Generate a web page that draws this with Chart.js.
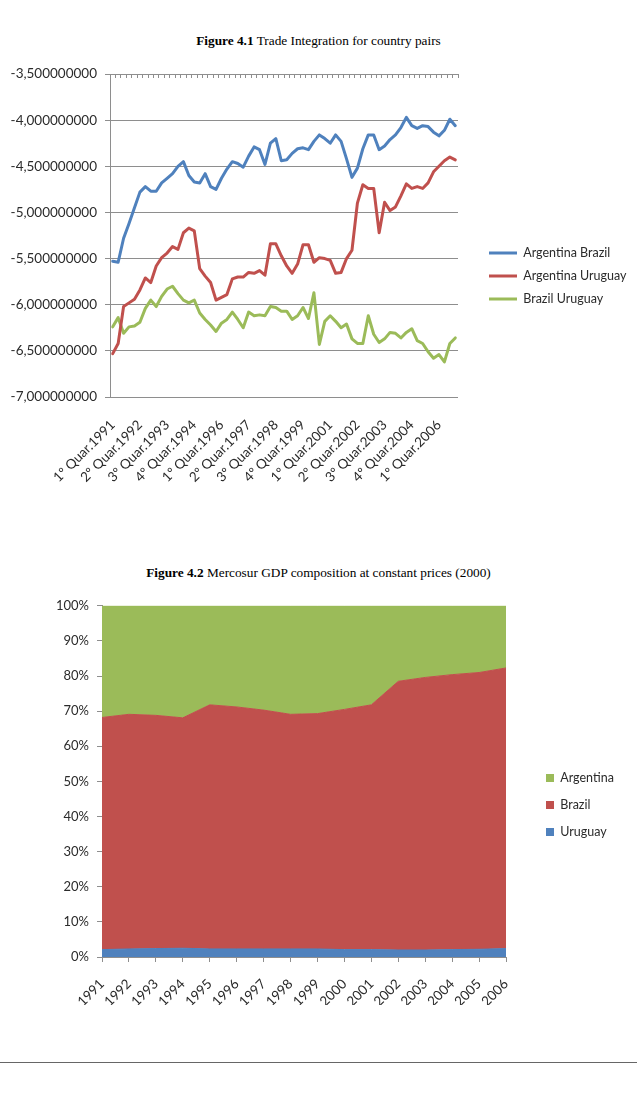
<!DOCTYPE html>
<html>
<head>
<meta charset="utf-8">
<script src="https://cdn.jsdelivr.net/npm/chart.js@4.4.0/dist/chart.umd.min.js"></script>
<style>
html,body{margin:0;padding:0;background:#fff;width:637px;height:1101px;overflow:hidden;position:relative;}
.title{position:absolute;left:0;width:637px;text-align:center;font-family:"Liberation Serif","Times New Roman",serif;font-size:13.3px;color:#000;line-height:16px;}
#c1wrap{position:absolute;left:0;top:55px;width:680px;height:435px;}
#c2wrap{position:absolute;left:0;top:590px;width:637px;height:415px;}
.rule{position:absolute;left:0;top:1062px;width:637px;height:0;border-top:1.5px solid #666;}
</style>
</head>
<body>
<div class="title" style="top:33px"><b>Figure 4.1</b> Trade Integration for country pairs</div>
<div id="c1wrap"><canvas id="c1"></canvas></div>
<div class="title" style="top:565px"><b>Figure 4.2</b> Mercosur GDP composition at constant prices (2000)</div>
<div id="c2wrap"><canvas id="c2"></canvas></div>
<div class="rule"></div>
<script>
// ---------- Figure 4.1 data ----------
const quarterLabels = [
"1º Quar.1991","2º Quar.1991","3º Quar.1991","4º Quar.1991",
"1º Quar.1992","2º Quar.1992","3º Quar.1992","4º Quar.1992",
"1º Quar.1993","2º Quar.1993","3º Quar.1993","4º Quar.1993",
"1º Quar.1994","2º Quar.1994","3º Quar.1994","4º Quar.1994",
"1º Quar.1995","2º Quar.1995","3º Quar.1995","4º Quar.1995",
"1º Quar.1996","2º Quar.1996","3º Quar.1996","4º Quar.1996",
"1º Quar.1997","2º Quar.1997","3º Quar.1997","4º Quar.1997",
"1º Quar.1998","2º Quar.1998","3º Quar.1998","4º Quar.1998",
"1º Quar.1999","2º Quar.1999","3º Quar.1999","4º Quar.1999",
"1º Quar.2000","2º Quar.2000","3º Quar.2000","4º Quar.2000",
"1º Quar.2001","2º Quar.2001","3º Quar.2001","4º Quar.2001",
"1º Quar.2002","2º Quar.2002","3º Quar.2002","4º Quar.2002",
"1º Quar.2003","2º Quar.2003","3º Quar.2003","4º Quar.2003",
"1º Quar.2004","2º Quar.2004","3º Quar.2004","4º Quar.2004",
"1º Quar.2005","2º Quar.2005","3º Quar.2005","4º Quar.2005",
"1º Quar.2006","2º Quar.2006","3º Quar.2006","4º Quar.2006"
];
const argentinaBrazil = [
-5.53,-5.54,-5.28,-5.12,-4.95,-4.78,-4.72,-4.77,-4.77,-4.68,
-4.63,-4.58,-4.50,-4.45,-4.60,-4.67,-4.68,-4.58,-4.72,-4.75,
-4.63,-4.53,-4.45,-4.47,-4.51,-4.39,-4.29,-4.32,-4.48,-4.25,
-4.20,-4.44,-4.43,-4.36,-4.31,-4.30,-4.32,-4.23,-4.16,-4.20,
-4.25,-4.16,-4.23,-4.42,-4.62,-4.52,-4.31,-4.16,-4.16,-4.32,
-4.28,-4.21,-4.16,-4.08,-3.97,-4.06,-4.09,-4.06,-4.07,-4.13,
-4.17,-4.11,-3.99,-4.06
];
const argentinaUruguay = [
-6.53,-6.42,-6.02,-5.98,-5.94,-5.84,-5.71,-5.76,-5.58,-5.49,
-5.44,-5.37,-5.40,-5.22,-5.17,-5.20,-5.61,-5.69,-5.76,-5.95,
-5.92,-5.89,-5.72,-5.70,-5.70,-5.65,-5.66,-5.63,-5.68,-5.34,
-5.34,-5.47,-5.58,-5.66,-5.56,-5.35,-5.35,-5.54,-5.49,-5.50,
-5.52,-5.66,-5.65,-5.50,-5.41,-4.90,-4.70,-4.74,-4.74,-5.22,
-4.89,-4.98,-4.94,-4.82,-4.69,-4.74,-4.72,-4.74,-4.68,-4.56,
-4.50,-4.44,-4.40,-4.43
];
const brazilUruguay = [
-6.24,-6.14,-6.31,-6.24,-6.23,-6.19,-6.04,-5.95,-6.02,-5.91,
-5.83,-5.80,-5.88,-5.95,-5.98,-5.95,-6.09,-6.16,-6.22,-6.29,
-6.20,-6.16,-6.08,-6.16,-6.25,-6.08,-6.12,-6.11,-6.12,-6.02,
-6.03,-6.07,-6.07,-6.16,-6.12,-6.03,-6.15,-5.87,-6.43,-6.18,
-6.12,-6.18,-6.25,-6.21,-6.37,-6.42,-6.42,-6.12,-6.32,-6.41,
-6.37,-6.30,-6.31,-6.36,-6.30,-6.26,-6.39,-6.42,-6.51,-6.58,
-6.54,-6.62,-6.42,-6.36
];
const tradeAxisMin = -7.0;
const tradeAxisMax = -3.5;
const tradeAxisStep = 0.5;

// ---------- Figure 4.2 data (shares, %) ----------
const yearLabels = ["1991","1992","1993","1994","1995","1996","1997","1998","1999","2000","2001","2002","2003","2004","2005","2006"];
const uruguayShare   = [2.1,2.3,2.4,2.5,2.3,2.3,2.3,2.3,2.3,2.1,2.1,2.0,2.0,2.1,2.2,2.4];
const brazilShare    = [66.1,66.8,66.4,65.6,69.5,68.9,68.0,66.8,67.0,68.4,69.7,76.5,77.6,78.3,78.8,79.9];
const argentinaShare = [31.8,30.9,31.2,31.9,28.2,28.8,29.7,30.9,30.7,29.5,28.2,21.5,20.4,19.6,19.0,17.7];

// ---------- styling ----------
const BLUE = '#4F81BD', RED = '#C0504D', GREEN = '#9BBB59';
const GRID = '#8e8e8e';
const TXT = '#2b2b2b';
Chart.defaults.font.family = "Lato, 'Open Sans', sans-serif";
Chart.defaults.color = TXT;

function measureMax(texts, font) {
  const ctx = document.createElement('canvas').getContext('2d');
  ctx.font = font;
  return Math.max(...texts.map(t => ctx.measureText(t).width));
}
const noStrokeLabels = (chart) =>
  Chart.defaults.plugins.legend.labels.generateLabels(chart).map(l => Object.assign(l, {lineWidth: 0}));

// ---------- chart 1 ----------
const names1 = ['Argentina Brazil','Argentina Uruguay','Brazil Uruguay'];
const LFS1 = 12.5, LPAD1 = 10.5, LBOX1 = 28, GAP1 = 20.5, W1 = 680, RIGHT1 = 458;
const legendW1 = LPAD1 + LBOX1 + LFS1 / 2 + measureMax(names1, LFS1 + 'px ' + Chart.defaults.font.family) + 10;
const padR1 = W1 - RIGHT1 - GAP1 - legendW1;

new Chart(document.getElementById('c1'), {
  type: 'line',
  data: {
    labels: quarterLabels,
    datasets: [
      {label: names1[0], data: argentinaBrazil, borderColor: BLUE, backgroundColor: BLUE},
      {label: names1[1], data: argentinaUruguay, borderColor: RED, backgroundColor: RED},
      {label: names1[2], data: brazilUruguay, borderColor: GREEN, backgroundColor: GREEN}
    ].map(d => Object.assign(d, {borderWidth: 3, pointRadius: 0, tension: 0, fill: false, borderJoinStyle: 'round', borderCapStyle: 'round'}))
  },
  options: {
    responsive: true, maintainAspectRatio: false, animation: false,
    layout: {padding: {left: 0, top: 7, right: padR1, bottom: 0}},
    plugins: {
      tooltip: {enabled: false},
      legend: {
        position: 'right', align: 'center', maxWidth: 1000,
        labels: {boxWidth: LBOX1, boxHeight: 3, padding: LPAD1, font: {size: LFS1}, color: TXT, generateLabels: noStrokeLabels}
      }
    },
    scales: {
      x: {
        type: 'category', position: 'bottom', offset: true,
        grid: {display: false, drawTicks: false}, border: {display: false},
        ticks: {
          autoSkip: false, minRotation: 45, maxRotation: 45, padding: 20, font: {size: 13.5}, color: TXT,
          callback: function (v, i) { return i % 5 === 0 ? this.getLabelForValue(v) : null; }
        },
        afterFit: s => { s.height = 93; }
      },
      xTop: {
        type: 'category', labels: quarterLabels, position: 'top', offset: true,
        grid: {display: true, drawOnChartArea: false, offset: true, tickLength: -4, color: GRID},
        border: {display: false}, ticks: {display: false},
        afterFit: s => { s.height = 12; }
      },
      y: {
        type: 'linear', position: 'left', min: tradeAxisMin, max: tradeAxisMax,
        ticks: {stepSize: tradeAxisStep, padding: 8, font: {size: 13.5}, color: TXT,
          callback: v => Number(v).toFixed(9).replace('.', ',')},
        grid: {color: GRID, tickLength: 5},
        border: {display: true, color: GRID},
        afterFit: s => { s.width = 110; }
      },
      yGap: {
        type: 'linear', position: 'right',
        grid: {display: false, drawTicks: false}, ticks: {display: false}, border: {display: false},
        afterFit: s => { s.width = GAP1; }
      }
    }
  }
});

// ---------- chart 2 ----------
const names2 = ['Uruguay','Brazil','Argentina'];
const LFS2 = 12.5, LPAD2 = 14.5, LBOX2 = 8, GAP2 = 25.5, W2 = 637, RIGHT2 = 506;
const legendW2 = LPAD2 + LBOX2 + LFS2 / 2 + measureMax(names2, LFS2 + 'px ' + Chart.defaults.font.family) + 10;
const padR2 = W2 - RIGHT2 - GAP2 - legendW2;

new Chart(document.getElementById('c2'), {
  type: 'line',
  data: {
    labels: yearLabels,
    datasets: [
      {label: 'Uruguay', data: uruguayShare, backgroundColor: BLUE, borderColor: BLUE, fill: 'origin'},
      {label: 'Brazil', data: brazilShare, backgroundColor: RED, borderColor: RED, fill: '-1'},
      {label: 'Argentina', data: argentinaShare, backgroundColor: GREEN, borderColor: GREEN, fill: '-1'}
    ].map(d => Object.assign(d, {borderWidth: 1, pointRadius: 0, tension: 0}))
  },
  options: {
    responsive: true, maintainAspectRatio: false, animation: false,
    layout: {padding: {left: 0, top: 15, right: padR2, bottom: 0}},
    plugins: {
      tooltip: {enabled: false},
      legend: {
        position: 'right', align: 'center', reverse: true, maxWidth: 1000,
        labels: {boxWidth: LBOX2, boxHeight: 8, padding: LPAD2, font: {size: LFS2}, color: TXT, generateLabels: noStrokeLabels}
      }
    },
    scales: {
      x: {
        type: 'category', offset: false,
        grid: {display: true, drawOnChartArea: false, tickLength: 5, color: GRID},
        border: {display: true, color: GRID},
        ticks: {autoSkip: false, minRotation: 45, maxRotation: 45, padding: 14, font: {size: 13.5}, color: TXT},
        afterFit: s => { s.height = 48; }
      },
      y: {
        stacked: true, min: 0, max: 100,
        ticks: {stepSize: 10, padding: 8, font: {size: 13}, color: TXT, callback: v => v + '%'},
        grid: {drawOnChartArea: false, tickLength: 5, color: GRID},
        border: {display: true, color: GRID},
        afterFit: s => { s.width = 102; }
      },
      yGap: {
        type: 'linear', position: 'right',
        grid: {display: false, drawTicks: false}, ticks: {display: false}, border: {display: false},
        afterFit: s => { s.width = GAP2; }
      }
    }
  }
});
</script>
</body>
</html>
